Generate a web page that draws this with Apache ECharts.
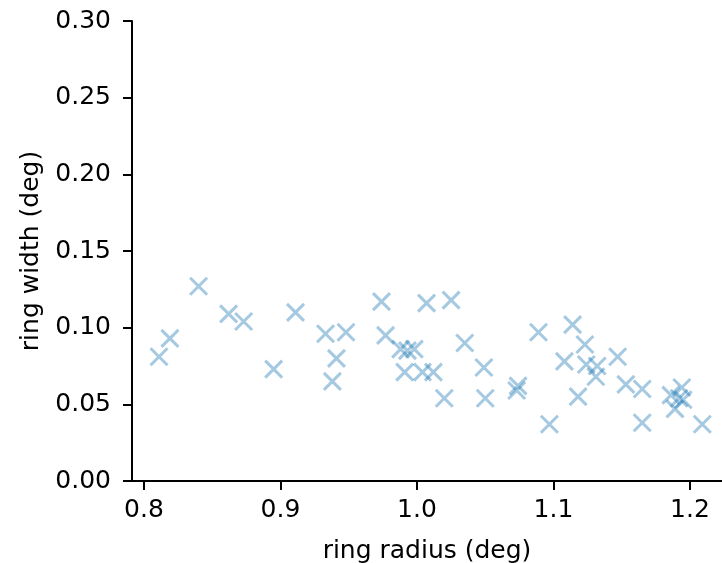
<!DOCTYPE html>
<html>
<head>
<meta charset="utf-8">
<script src="https://cdn.jsdelivr.net/npm/echarts@6/dist/echarts.min.js"></script>
<style>
  html, body { margin: 0; padding: 0; background: #fff; }
  #chart { width: 722px; height: 563px; }
</style>
</head>
<body>
<div id="chart"></div>
<script>
// ring radius (deg) / ring width (deg)
const radius = [0.811, 0.819, 0.840, 0.862, 0.873, 0.895, 0.911, 0.933, 0.938, 0.941,
                0.948, 0.974, 0.977, 0.988, 0.991, 0.993, 0.998, 1.004, 1.007, 1.012,
                1.020, 1.025, 1.035, 1.049, 1.050, 1.073, 1.074, 1.089, 1.097, 1.108,
                1.114, 1.118, 1.123, 1.124, 1.132, 1.131, 1.147, 1.153, 1.165, 1.165,
                1.186, 1.189, 1.194, 1.192, 1.195, 1.209];
const width = [0.081, 0.093, 0.127, 0.109, 0.104, 0.073, 0.110, 0.096, 0.065, 0.080,
               0.097, 0.117, 0.095, 0.086, 0.071, 0.085, 0.086, 0.071, 0.116, 0.071,
               0.054, 0.118, 0.090, 0.074, 0.054, 0.059, 0.062, 0.097, 0.037, 0.078,
               0.102, 0.055, 0.089, 0.076, 0.075, 0.068, 0.081, 0.063, 0.060, 0.038,
               0.056, 0.047, 0.061, 0.054, 0.053, 0.037];
const xTicks = [0.8, 0.9, 1.0, 1.1, 1.2];

const font = 'DejaVu Sans';
const points = radius.map((r, i) => [r, width[i]]);

var myChart = echarts.init(document.getElementById('chart'));
var option = {
    animation: false,
    grid: { left: 132, right: 0, top: 21, bottom: 82, outerBoundsMode: 'none' },
    xAxis: [{
        type: 'value',
        min: 0.79121,
        max: 1.22344,
        name: 'ring radius (deg)',
        nameLocation: 'middle',
        nameGap: 58,
        nameTextStyle: { fontFamily: font, fontSize: 25, color: '#000' },
        axisLine: { show: true, onZero: false, lineStyle: { color: '#000', width: 2 } },
        axisTick: { show: true, length: 9, customValues: xTicks, lineStyle: { color: '#000', width: 2 } },
        axisLabel: {
            customValues: xTicks, margin: 17, fontFamily: font, fontSize: 25, color: '#000',
            formatter: v => v.toFixed(1)
        },
        splitLine: { show: false }
    }, {
        type: 'value',
        position: 'top',
        min: 0.79121,
        max: 1.22344,
        axisLine: { show: true, lineStyle: { color: '#000', width: 2 } },
        axisTick: { show: false },
        axisLabel: { show: false },
        splitLine: { show: false }
    }],
    yAxis: {
        type: 'value',
        min: 0,
        max: 0.3,
        interval: 0.05,
        name: 'ring width (deg)',
        nameLocation: 'middle',
        nameGap: 86,
        nameTextStyle: { fontFamily: font, fontSize: 25, color: '#000' },
        axisLine: { show: true, lineStyle: { color: '#000', width: 2 } },
        axisTick: { show: true, length: 9, lineStyle: { color: '#000', width: 2 } },
        axisLabel: {
            margin: 21, fontFamily: font, fontSize: 25, color: '#000',
            formatter: v => v.toFixed(2)
        },
        splitLine: { show: false }
    },
    series: [{
        type: 'scatter',
        data: points,
        symbol: 'path://M0,0L10,10M10,0L0,10',
        symbolSize: 17,
        itemStyle: {
            color: 'rgba(0,0,0,0)',
            borderColor: 'rgba(31,119,180,0.5)',
            borderWidth: 3
        }
    }]
};
myChart.setOption(option);
window.addEventListener('resize', () => {
    myChart.resize()
})
</script>
</body>
</html>
